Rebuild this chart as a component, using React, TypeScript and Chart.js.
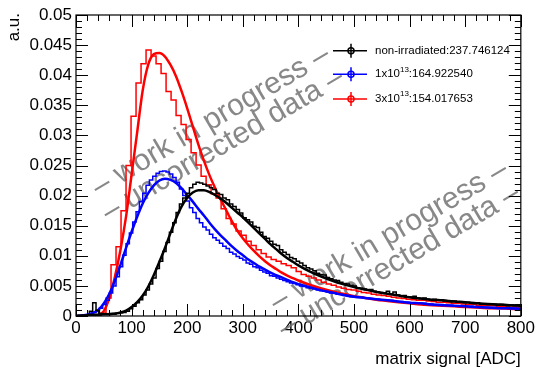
import React, { useEffect, useRef } from "react";
import { Chart, registerables } from "chart.js";

Chart.register(...registerables);

// ---------- data ----------
const X_MIN = 0;
const X_MAX = 800;
const Y_MIN = 0;
const Y_MAX = 0.05;
const X_TICK_STEP = 100;
const Y_TICK_STEP = 0.005;

// histogram bin widths (ADC)
const BIN_BLACK = 6;
const BIN_BLUE = 6;
const BIN_RED = 9;

// non-irradiated histogram (bins of 6 ADC starting at 0)
const HIST_BLACK = [
  0, 0, 0.0001, 0.0002, 0.0008, 0.0022, 0.0009, 0.0004, 0.0003, 0.0003,
  0.0004, 0.0003, 0.0004, 0.0005, 0.0006, 0.0008, 0.0012, 0.0016, 0.0022, 0.0027,
  0.0035, 0.0043, 0.0053, 0.0063, 0.0079, 0.0091, 0.0107, 0.0122, 0.0139, 0.0155,
  0.0172, 0.0186, 0.0196, 0.0204, 0.0213, 0.0219, 0.0222, 0.0221, 0.0219, 0.0216,
  0.0213, 0.021, 0.0204, 0.0202, 0.0196, 0.0193, 0.0186, 0.0182, 0.0177, 0.0171,
  0.0163, 0.016, 0.0156, 0.0149, 0.0147, 0.0139, 0.0132, 0.0129, 0.0124, 0.0119,
  0.0117, 0.011, 0.0106, 0.0102, 0.0097, 0.0095, 0.0091, 0.0088, 0.0084, 0.008,
  0.0078, 0.0075, 0.0071, 0.0069, 0.0068, 0.0064, 0.0062, 0.006, 0.0059, 0.0056,
  0.0054, 0.0053, 0.0051, 0.005, 0.0047, 0.0046, 0.0045, 0.0043, 0.0044, 0.0041,
  0.004, 0.0039, 0.0038, 0.0041, 0.0036, 0.004, 0.0035, 0.0033, 0.0034, 0.0032,
  0.0031, 0.0033, 0.003, 0.0029, 0.003, 0.0028, 0.0027, 0.0028, 0.0026, 0.0026,
  0.0025, 0.0025, 0.0024, 0.0025, 0.0023, 0.0023, 0.0022, 0.0023, 0.0021, 0.0021,
  0.0022, 0.002, 0.002, 0.0019, 0.002, 0.0019, 0.0018, 0.0019, 0.0018, 0.0017,
  0.0018, 0.0017, 0.0017, 0.0016,
];

// 1x10^13 histogram (bins of 6 ADC)
const HIST_BLUE = [
  0, 0, 0.0001, 0.0002, 0.0004, 0.0006, 0.0009, 0.0013, 0.0019, 0.0026,
  0.0038, 0.005, 0.0065, 0.0082, 0.0101, 0.012, 0.0138, 0.0156, 0.0173, 0.019,
  0.0204, 0.0217, 0.0226, 0.0232, 0.0237, 0.024, 0.0241, 0.0239, 0.0236, 0.023,
  0.0222, 0.0211, 0.02, 0.0191, 0.018, 0.0172, 0.0162, 0.0155, 0.0148, 0.0143,
  0.0136, 0.013, 0.0126, 0.0121, 0.0116, 0.0112, 0.0106, 0.0103, 0.0099, 0.0096,
  0.0093, 0.0088, 0.0086, 0.0082, 0.008, 0.0076, 0.0073, 0.0071, 0.0067, 0.0066,
  0.0063, 0.0061, 0.0059, 0.0057, 0.0055, 0.0054, 0.0052, 0.005, 0.0049, 0.0047,
  0.0046, 0.0045, 0.0043, 0.0042, 0.0041, 0.004, 0.0038, 0.0038, 0.0036, 0.0036,
  0.0035, 0.0034, 0.0033, 0.0032, 0.0032, 0.0031, 0.003, 0.003, 0.0029, 0.0028,
  0.0028, 0.0027, 0.0027, 0.0026, 0.0026, 0.0025, 0.0024, 0.0024, 0.0023, 0.0023,
  0.0022, 0.0022, 0.0021, 0.0021, 0.0021, 0.002, 0.002, 0.0019, 0.0019, 0.0019,
  0.0018, 0.0018, 0.0018, 0.0017, 0.0017, 0.0016, 0.0016, 0.0016, 0.0016, 0.0015,
  0.0015, 0.0015, 0.0014, 0.0014, 0.0014, 0.0014, 0.0013, 0.0013, 0.0013, 0.0013,
  0.0012, 0.0012, 0.0012, 0.0012,
];

// 3x10^13 histogram (bins of 9 ADC)
const HIST_RED = [
  0, 0, 0, 0, 0, 0.0005, 0.003, 0.0085, 0.0115, 0.0175,
  0.025, 0.0332, 0.0387, 0.0419, 0.0442, 0.0432, 0.0419, 0.0403, 0.0373, 0.0359,
  0.0333, 0.0318, 0.0293, 0.0271, 0.0251, 0.0232, 0.0218, 0.0203, 0.0196, 0.0178,
  0.0162, 0.0153, 0.0141, 0.0134, 0.0124, 0.0117, 0.011, 0.0104, 0.0098, 0.0094,
  0.0091, 0.0087, 0.0084, 0.008, 0.0074, 0.0069, 0.0066, 0.0063, 0.006, 0.0056,
  0.0053, 0.0051, 0.0048, 0.0046, 0.0044, 0.0043, 0.0041, 0.0039, 0.0038, 0.0036,
  0.0035, 0.0034, 0.0033, 0.0031, 0.003, 0.0029, 0.0028, 0.0027, 0.0026, 0.0026,
  0.0025, 0.0024, 0.0023, 0.0023, 0.0022, 0.0021, 0.0021, 0.002, 0.0019, 0.0019,
  0.0018, 0.0018, 0.0017, 0.0017, 0.0016, 0.0016, 0.0015, 0.0015, 0.0014,
];

// fit curves, sampled at FIT_X
const FIT_X = [
  0, 10, 20, 30, 40, 50, 60, 70, 80, 90,
  100, 110, 120, 130, 140, 150, 160, 170, 180, 190,
  200, 210, 220, 230, 240, 250, 260, 270, 280, 290,
  300, 310, 320, 330, 340, 350, 360, 370, 380, 390,
  400, 420, 440, 460, 480, 500, 520, 540, 560, 580,
  600, 620, 640, 660, 680, 700, 720, 740, 760, 780, 800,
];
const FIT_BLACK = [
  0, 0.0001, 0.0001, 0.0002, 0.0002, 0.0003, 0.0003, 0.0004, 0.0006, 0.0009,
  0.0015, 0.0023, 0.0034, 0.0049, 0.0068, 0.009, 0.0113, 0.0138, 0.0162, 0.0182,
  0.0196, 0.0205, 0.0209, 0.0209, 0.0206, 0.0201, 0.0195, 0.0188, 0.018, 0.0172,
  0.0164, 0.0155, 0.0146, 0.0137, 0.0128, 0.0119, 0.0111, 0.0103, 0.0096, 0.009,
  0.0084, 0.0074, 0.0066, 0.0059, 0.0053, 0.0048, 0.0044, 0.004, 0.0037, 0.0034,
  0.0031, 0.0029, 0.0027, 0.0026, 0.0024, 0.0023, 0.0021, 0.002, 0.0019, 0.0018, 0.0017,
];
const FIT_BLUE = [
  0, 0.0001, 0.0002, 0.0005, 0.001, 0.0021, 0.0037, 0.0059, 0.0085, 0.0113,
  0.014, 0.0165, 0.0187, 0.0204, 0.0217, 0.0225, 0.0228, 0.0226, 0.0221, 0.0212,
  0.0201, 0.019, 0.0178, 0.0167, 0.0155, 0.0144, 0.0134, 0.0125, 0.0116, 0.0108,
  0.0101, 0.0094, 0.0088, 0.0082, 0.0077, 0.0072, 0.0068, 0.0064, 0.006, 0.0056,
  0.0053, 0.0048, 0.0043, 0.0039, 0.0035, 0.0032, 0.003, 0.0028, 0.0026, 0.0024,
  0.0022, 0.0021, 0.0019, 0.0018, 0.0017, 0.0016, 0.0015, 0.0014, 0.0013, 0.0013, 0.0012,
];
const FIT_RED = [
  0, 0, 0, 0, 0.0001, 0.0008, 0.003, 0.0065, 0.011, 0.0165,
  0.0235, 0.0305, 0.0375, 0.0418, 0.0435, 0.0437, 0.0431, 0.0417, 0.0398, 0.0373,
  0.0345, 0.0315, 0.0285, 0.0258, 0.0234, 0.0213, 0.0194, 0.0176, 0.0158, 0.0142,
  0.0129, 0.0118, 0.0108, 0.0099, 0.0091, 0.0084, 0.0078, 0.0072, 0.0067, 0.0063,
  0.0059, 0.0052, 0.0046, 0.0041, 0.0037, 0.0033, 0.003, 0.0027, 0.0025, 0.0023,
  0.0021, 0.0019, 0.0018, 0.0017, 0.0016, 0.0015, 0.0014, 0.0013, 0.0013, 0.0012, 0.0011,
];

const SERIES_COLORS = ["#000000", "#0000ff", "#ff0000"];
const LEGEND_PREFIX = ["non-irradiated:237.746124", "1x10", "3x10"];
const LEGEND_SUP = ["", "13", "13"];
const LEGEND_SUFFIX = ["", ":164.922540", ":154.017653"];
const X_TITLE = "matrix signal [ADC]";
const Y_TITLE = "a.u.";
const WATERMARK = ["\u2013 work in progress \u2013", "\u2013 uncorrected data \u2013"];

const FONT = "'Liberation Sans', Arial, Helvetica, sans-serif";
const W = 537;
const H = 368;

function histPoints(vals: number[], w: number) {
  const pts = vals.map((v, i) => ({ x: i * w, y: v }));
  pts.push({ x: vals.length * w, y: vals[vals.length - 1] });
  return pts;
}
function curvePoints(xs: number[], ys: number[]) {
  return xs.map((x, i) => ({ x, y: ys[i] }));
}

const rootStyle = {
  id: "rootStyle",
  beforeDatasetsDraw(chart: any) {
    const ctx = chart.ctx;
    ctx.save();
    ctx.fillStyle = "rgba(115,115,115,0.85)";
    ctx.font = `30px ${FONT}`;
    ctx.textAlign = "center";
    ctx.textBaseline = "middle";
    const ang = (-30.5 * Math.PI) / 180;
    const spots = [
      [211, 121, 0],
      [223, 145, 1],
      [389, 236, 0],
      [399, 261, 1],
    ];
    for (const [cx, cy, k] of spots) {
      ctx.save();
      ctx.translate(cx, cy);
      ctx.rotate(ang);
      ctx.fillText(WATERMARK[k], 0, 0);
      ctx.restore();
    }
    ctx.restore();
  },
  afterDatasetsDraw(chart: any) {
    const ctx = chart.ctx;
    const { left, right, top, bottom } = chart.chartArea;
    const xs = chart.scales.x;
    const ys = chart.scales.y;
    ctx.save();
    ctx.strokeStyle = "#000";
    ctx.lineWidth = 1;
    ctx.beginPath();
    // x ticks (every 20, major every 100)
    const nx = Math.round((X_MAX - X_MIN) / 20);
    for (let i = 0; i <= nx; i++) {
      const v = X_MIN + i * 20;
      const px = Math.round(xs.getPixelForValue(v)) + 0.5;
      const len = i % 5 === 0 ? 12 : 6;
      ctx.moveTo(px, bottom);
      ctx.lineTo(px, bottom - len);
      ctx.moveTo(px, top);
      ctx.lineTo(px, top + len);
    }
    // y ticks (every 0.001, major every 0.005)
    const ny = Math.round((Y_MAX - Y_MIN) / 0.001);
    for (let i = 0; i <= ny; i++) {
      const v = Y_MIN + i * 0.001;
      const py = Math.round(ys.getPixelForValue(v)) + 0.5;
      const len = i % 5 === 0 ? 12 : 6;
      ctx.moveTo(left, py);
      ctx.lineTo(left + len, py);
      ctx.moveTo(right, py);
      ctx.lineTo(right - len, py);
    }
    ctx.stroke();
    ctx.lineWidth = 1.2;
    ctx.strokeRect(left, top, right - left, bottom - top);

    // legend
    const legY = [50.7, 74.3, 99];
    for (let i = 0; i < 3; i++) {
      const y = legY[i];
      ctx.strokeStyle = SERIES_COLORS[i];
      ctx.lineWidth = 1.5;
      ctx.beginPath();
      ctx.moveTo(333, y);
      ctx.lineTo(367, y);
      ctx.moveTo(351, y - 7);
      ctx.lineTo(351, y + 7);
      ctx.stroke();
      ctx.beginPath();
      ctx.arc(351, y, 3, 0, Math.PI * 2);
      ctx.stroke();
      ctx.fillStyle = "#000";
      ctx.textAlign = "left";
      ctx.textBaseline = "middle";
      ctx.font = `11.5px ${FONT}`;
      let x = 375;
      ctx.fillText(LEGEND_PREFIX[i], x, y);
      x += ctx.measureText(LEGEND_PREFIX[i]).width;
      if (LEGEND_SUP[i]) {
        ctx.font = `8px ${FONT}`;
        ctx.fillText(LEGEND_SUP[i], x, y - 5);
        x += ctx.measureText(LEGEND_SUP[i]).width;
        ctx.font = `11.5px ${FONT}`;
        ctx.fillText(LEGEND_SUFFIX[i], x, y);
      }
    }

    // axis titles
    ctx.fillStyle = "#000";
    ctx.font = `17px ${FONT}`;
    ctx.textAlign = "right";
    ctx.textBaseline = "alphabetic";
    ctx.fillText(X_TITLE, right, 364);
    ctx.save();
    ctx.translate(19, 13);
    ctx.rotate(-Math.PI / 2);
    ctx.fillText(Y_TITLE, 0, 0);
    ctx.restore();
    ctx.restore();
  },
};

export default function App() {
  const ref = useRef<HTMLCanvasElement | null>(null);
  useEffect(() => {
    document.body.style.margin = "0";
    const canvas = ref.current!;
    const histStyle = (c: string) => ({
      borderColor: c,
      borderWidth: 1.5,
      stepped: "before" as const,
      pointRadius: 0,
      fill: false,
    });
    const fitStyle = (c: string) => ({
      borderColor: c,
      borderWidth: 2.5,
      cubicInterpolationMode: "monotone" as const,
      pointRadius: 0,
      fill: false,
    });
    const chart = new Chart(canvas, {
      type: "line",
      data: {
        datasets: [
          { label: "h0", data: histPoints(HIST_BLACK, BIN_BLACK), ...histStyle(SERIES_COLORS[0]) },
          { label: "f0", data: curvePoints(FIT_X, FIT_BLACK), ...fitStyle(SERIES_COLORS[0]) },
          { label: "h1", data: histPoints(HIST_BLUE, BIN_BLUE), ...histStyle(SERIES_COLORS[1]) },
          { label: "f1", data: curvePoints(FIT_X, FIT_BLUE), ...fitStyle(SERIES_COLORS[1]) },
          { label: "h2", data: histPoints(HIST_RED, BIN_RED), ...histStyle(SERIES_COLORS[2]) },
          { label: "f2", data: curvePoints(FIT_X, FIT_RED), ...fitStyle(SERIES_COLORS[2]) },
        ] as any,
      },
      options: {
        animation: false,
        responsive: false,
        maintainAspectRatio: false,
        layout: { padding: { left: 0, right: 14, top: 15, bottom: 0 } },
        plugins: { legend: { display: false }, tooltip: { enabled: false } },
        scales: {
          x: {
            type: "linear",
            min: X_MIN,
            max: X_MAX,
            grid: { display: false, drawTicks: false },
            border: { display: false },
            ticks: {
              stepSize: X_TICK_STEP,
              autoSkip: false,
              maxRotation: 0,
              padding: 2,
              color: "#000",
              font: { family: FONT, size: 17 },
            },
            afterFit: (s: any) => {
              s.height = 52;
            },
          },
          y: {
            type: "linear",
            min: Y_MIN,
            max: Y_MAX,
            grid: { display: false, drawTicks: false },
            border: { display: false },
            ticks: {
              stepSize: Y_TICK_STEP,
              autoSkip: false,
              padding: 4,
              color: "#000",
              font: { family: FONT, size: 17 },
              callback: (v: any) => String(+Number(v).toFixed(4)),
            },
            afterFit: (s: any) => {
              s.width = 76;
            },
          },
        },
      } as any,
      plugins: [rootStyle],
    });
    return () => chart.destroy();
  }, []);
  return (
    <div style={{ width: W, height: H, background: "#fff" }}>
      <canvas ref={ref} width={W} height={H} style={{ display: "block" }} />
    </div>
  );
}
